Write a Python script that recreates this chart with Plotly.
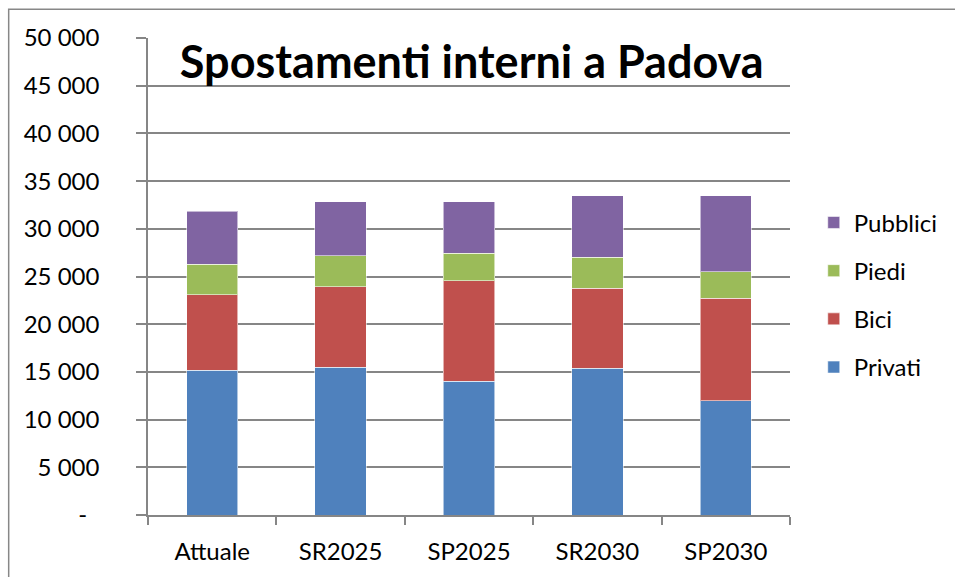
import plotly.graph_objects as go

# Trips inside Padova by transport mode, per scenario
scenari = ["Attuale", "SR2025", "SP2025", "SR2030", "SP2030"]
privati = [15150, 15500, 14000, 15400, 12000]
bici = [7950, 8400, 10550, 8350, 10700]
piedi = [3200, 3250, 2900, 3250, 2800]
pubblici = [5550, 5700, 5400, 6450, 7950]

y_ticks = [0, 5000, 10000, 15000, 20000, 25000, 30000, 35000, 40000, 45000, 50000]
y_labels = ["-\u00a0\u00a0", "5 000", "10 000", "15 000", "20 000", "25 000",
            "30 000", "35 000", "40 000", "45 000", "50 000"]

FONT = "Lato, Open Sans, sans-serif"
GRID = "#868686"

serie = [
    ("Privati", privati, "#4F81BD", 4),
    ("Bici", bici, "#C0504D", 3),
    ("Piedi", piedi, "#9BBB59", 2),
    ("Pubblici", pubblici, "#8064A2", 1),
]

fig = go.Figure()
for nome, valori, colore, rango in serie:
    fig.add_trace(go.Bar(
        x=scenari, y=valori, name=nome, legendgroup=nome, legendrank=rango,
        marker=dict(color=colore, line=dict(color="rgba(255,255,255,0.55)", width=1)),
    ))

fig.update_layout(
    barmode="stack",
    bargap=0.6,
    width=955, height=577,
    margin=dict(l=148, r=162, t=38, b=59),
    paper_bgcolor="white",
    plot_bgcolor="white",
    font=dict(family=FONT, size=24, color="black"),
    title=dict(
        text="<b>Spostamenti interni a Padova</b>",
        font=dict(family=FONT, size=45, color="black"),
        x=0.494, xanchor="center",
        y=1 - 62 / 577, yanchor="middle",
    ),
    legend=dict(
        x=1.037, xanchor="left",
        y=0.4615, yanchor="middle",
        traceorder="grouped",
        tracegroupgap=14,
        font=dict(family=FONT, size=24, color="black"),
        bgcolor="rgba(0,0,0,0)",
    ),
    xaxis=dict(
        showline=True, linecolor=GRID, linewidth=1.5,
        ticks="outside", tickson="boundaries", ticklen=8,
        tickcolor=GRID, tickwidth=1.5,
        showgrid=False,
        ticklabelstandoff=14,
        tickfont=dict(family=FONT, size=24, color="black"),
    ),
    yaxis=dict(
        range=[0, 50000],
        tickvals=y_ticks, ticktext=y_labels,
        showline=True, linecolor=GRID, linewidth=1.5,
        ticks="outside", ticklen=10, tickcolor=GRID, tickwidth=1.5,
        showgrid=True, gridcolor=GRID, gridwidth=1.5,
        zeroline=False,
        ticklabelstandoff=32,
        tickfont=dict(family=FONT, size=24, color="black"),
    ),
    shapes=[dict(
        type="rect", xref="paper", yref="paper",
        x0=-0.217, x1=1.6, y0=-0.5, y1=1.0604,
        line=dict(color="#878787", width=1.5),
        fillcolor="rgba(0,0,0,0)", layer="below",
    )],
)

fig.write_html("out.html")
